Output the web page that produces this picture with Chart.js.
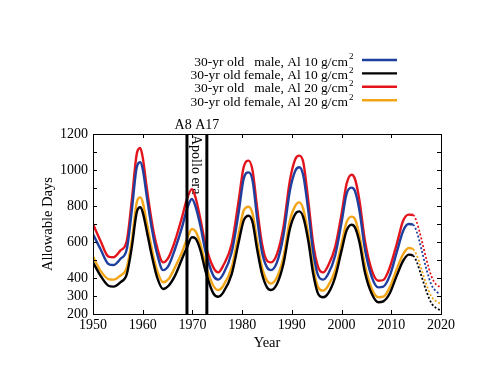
<!DOCTYPE html>
<html>
<head>
<meta charset="utf-8">
<script src="https://cdn.jsdelivr.net/npm/chart.js@4.4.0/dist/chart.umd.min.js"></script>
<style>
  body { margin: 0; background: #fff; }
  canvas { display: block; }
</style>
</head>
<body>
<canvas id="chart" width="487" height="377"></canvas>
<script>
// values (allowable days vs year)
const years = [1950, 1951.5, 1953.1, 1954.1, 1955.5, 1956.8, 1957.8, 1958.8, 1959.5, 1960.0,
  1960.8, 1961.9, 1962.9, 1964.1, 1965.2, 1966.5, 1967.9, 1968.9, 1969.9, 1970.6,
  1971.6, 1972.6, 1974.2, 1975.2, 1976.2, 1977.9, 1979.3, 1980.3, 1981.3, 1982.1,
  1983.0, 1984.0, 1985.0, 1985.8, 1987.0, 1988.3, 1989.6, 1990.7, 1991.5, 1992.3,
  1993.3, 1994.3, 1995.3, 1996.3, 1997.3, 1998.7, 2000.0, 2001.0, 2002.0, 2002.7,
  2003.6, 2004.7, 2006.1, 2007.4, 2008.4, 2009.7, 2011.1, 2012.4, 2013.5, 2014.4,
  2015.1, 2016.1, 2017.1, 2018.1, 2019.1, 2019.8];

const male10 = [644, 561, 478, 472, 506, 561, 774, 1015, 1043, 1006,
  857, 663, 533, 444, 469, 561, 681, 783, 839, 800,
  690, 552, 413, 391, 422, 543, 765, 950, 987, 941,
  737, 543, 459, 444, 487, 635, 885, 996, 1015, 969,
  774, 543, 413, 391, 422, 524, 709, 867, 902, 883,
  774, 561, 404, 348, 352, 413, 543, 663, 700, 696,
  658, 556, 445, 361, 324, 311];

const female10 = [487, 413, 357, 352, 376, 422, 570, 765, 793, 765,
  663, 515, 404, 339, 357, 413, 506, 570, 626, 620,
  555, 441, 315, 296, 320, 422, 598, 719, 746, 709,
  561, 422, 348, 333, 367, 478, 672, 756, 770, 737,
  607, 422, 311, 293, 315, 404, 552, 663, 696, 681,
  598, 431, 311, 265, 270, 315, 413, 496, 530, 524,
  491, 408, 324, 259, 232, 222];

const male20 = [700, 607, 519, 515, 552, 607, 830, 1089, 1122, 1070,
  904, 700, 570, 487, 515, 607, 737, 839, 894, 850,
  728, 589, 459, 431, 469, 589, 830, 1015, 1052, 996,
  793, 589, 496, 487, 533, 681, 941, 1061, 1080, 1043,
  830, 589, 459, 431, 469, 570, 756, 922, 974, 950,
  830, 607, 441, 385, 389, 459, 589, 719, 752, 750,
  713, 611, 500, 408, 361, 352];

const female20 = [519, 441, 394, 391, 413, 459, 607, 820, 848, 820,
  709, 552, 441, 376, 394, 459, 543, 617, 672, 660,
  590, 478, 357, 333, 357, 459, 644, 774, 796, 756,
  607, 459, 385, 369, 404, 515, 719, 802, 820, 783,
  644, 459, 348, 330, 357, 441, 589, 709, 741, 728,
  635, 469, 339, 293, 296, 348, 450, 533, 567, 560,
  528, 445, 361, 296, 269, 259];

const seriesLabels = [
  '30-yr old   male, Al 10 g/cm',
  '30-yr old female, Al 10 g/cm',
  '30-yr old   male, Al 20 g/cm',
  '30-yr old female, Al 20 g/cm'
];
const yTicks = [200, 300, 400, 600, 800, 1000, 1200];
const apolloYears = [1968.9, 1972.9];
const apolloLabels = ['A8', 'A17'];
const lastSolid = 2014.4; // after this the curves are projections (dashed)

const serif = "'Liberation Serif', 'Times New Roman', serif";

function makeSet(label, values, color) {
  return {
    label: label,
    data: years.map((y, i) => ({ x: y, y: values[i] })),
    borderColor: color,
    borderWidth: 2.4,
    pointRadius: 0,
    cubicInterpolationMode: 'monotone',
    segment: {
      borderDash: ctx => ctx.p0.parsed.x >= lastSolid ? [2, 2] : undefined,
      borderWidth: ctx => ctx.p0.parsed.x >= lastSolid ? 1.8 : undefined
    }
  };
}

// frame, inward ticks, Apollo markers and the legend
const decorations = {
  id: 'decorations',
  beforeDatasetsDraw(chart) {
    const ctx = chart.ctx;
    const xs = chart.scales.x;
    const mid = (xs.getPixelForValue(apolloYears[0]) + xs.getPixelForValue(apolloYears[1])) / 2;
    ctx.save();
    ctx.translate(mid - 1, chart.chartArea.top + 1);
    ctx.rotate(Math.PI / 2);
    ctx.font = '14px ' + serif;
    ctx.fillStyle = '#000';
    ctx.textAlign = 'left';
    ctx.textBaseline = 'middle';
    ctx.fillText('Apollo era', 0, 0);
    ctx.restore();
  },
  afterDraw(chart) {
    const ctx = chart.ctx;
    const { left, right, top, bottom } = chart.chartArea;
    const xs = chart.scales.x, ys = chart.scales.y;
    ctx.save();
    ctx.strokeStyle = '#000';
    ctx.lineWidth = 1;
    ctx.strokeRect(Math.round(left) + 0.5, Math.round(top) + 0.5, Math.round(right - left), Math.round(bottom - top));

    ctx.beginPath();
    for (let yr = 1950; yr <= 2020; yr += 10) {
      const px = Math.round(xs.getPixelForValue(yr)) + 0.5;
      ctx.moveTo(px, bottom); ctx.lineTo(px, bottom - 4);
      ctx.moveTo(px, top); ctx.lineTo(px, top + 4);
    }
    for (let v = 200; v <= 1200; v += 100) {
      const py = Math.round(ys.getPixelForValue(v)) + 0.5;
      ctx.moveTo(left, py); ctx.lineTo(left + 4, py);
      ctx.moveTo(right, py); ctx.lineTo(right - 4, py);
    }
    ctx.stroke();

    // Apollo 8 / Apollo 17 markers
    ctx.lineWidth = 3;
    apolloYears.forEach(yr => {
      const px = xs.getPixelForValue(yr);
      ctx.beginPath();
      ctx.moveTo(px, top);
      ctx.lineTo(px, bottom);
      ctx.stroke();
    });
    const mid = (xs.getPixelForValue(apolloYears[0]) + xs.getPixelForValue(apolloYears[1])) / 2;
    ctx.font = '14px ' + serif;
    ctx.fillStyle = '#000';
    ctx.textAlign = 'center';
    ctx.textBaseline = 'middle';
    ctx.fillText(apolloLabels.join(' '), mid, top - 9);

    // legend: right aligned text, sample line on the right
    chart.data.datasets.forEach((ds, i) => {
      const y = 60 + i * 13.4;
      ctx.font = '13.5px ' + serif;
      ctx.textAlign = 'right';
      ctx.textBaseline = 'middle';
      ctx.fillText(ds.label, 348, y + 2);
      ctx.font = '9px ' + serif;
      ctx.textAlign = 'left';
      ctx.fillText('2', 349, y - 3);
      ctx.strokeStyle = ds.borderColor;
      ctx.lineWidth = 2.4;
      ctx.beginPath();
      ctx.moveTo(362, y);
      ctx.lineTo(397, y);
      ctx.stroke();
    });
    ctx.restore();
  }
};

new Chart(document.getElementById('chart'), {
  type: 'line',
  data: {
    datasets: [
      makeSet(seriesLabels[0], male10, '#1f3f9f'),
      makeSet(seriesLabels[1], female10, '#000000'),
      makeSet(seriesLabels[2], male20, '#e3141c'),
      makeSet(seriesLabels[3], female20, '#f2a516')
    ]
  },
  options: {
    responsive: false,
    animation: false,
    devicePixelRatio: 1,
    layout: { padding: { top: 134, right: 46, left: 0, bottom: 0 } },
    plugins: { legend: { display: false }, tooltip: { enabled: false } },
    scales: {
      x: {
        type: 'linear',
        min: 1950,
        max: 2020,
        grid: { display: false, drawTicks: false },
        border: { display: false },
        ticks: {
          stepSize: 10,
          padding: 3,
          color: '#000',
          font: { family: serif, size: 14 },
          callback: v => String(v)
        },
        title: {
          display: true,
          text: 'Year',
          color: '#000',
          font: { family: serif, size: 14.5 },
          padding: { top: 0, bottom: 25 }
        },
        afterFit: s => { s.height = 63; }
      },
      y: {
        min: 200,
        max: 1200,
        grid: { display: false, drawTicks: false },
        border: { display: false },
        afterBuildTicks: s => { s.ticks = yTicks.map(v => ({ value: v })); },
        ticks: {
          padding: 5,
          color: '#000',
          font: { family: serif, size: 14 },
          callback: v => String(v)
        },
        title: {
          display: true,
          text: 'Allowable Days',
          color: '#000',
          font: { family: serif, size: 14.5 },
          padding: { top: 39, bottom: 0 }
        },
        afterFit: s => { s.width = 93; }
      }
    }
  },
  plugins: [decorations]
});
</script>
</body>
</html>
